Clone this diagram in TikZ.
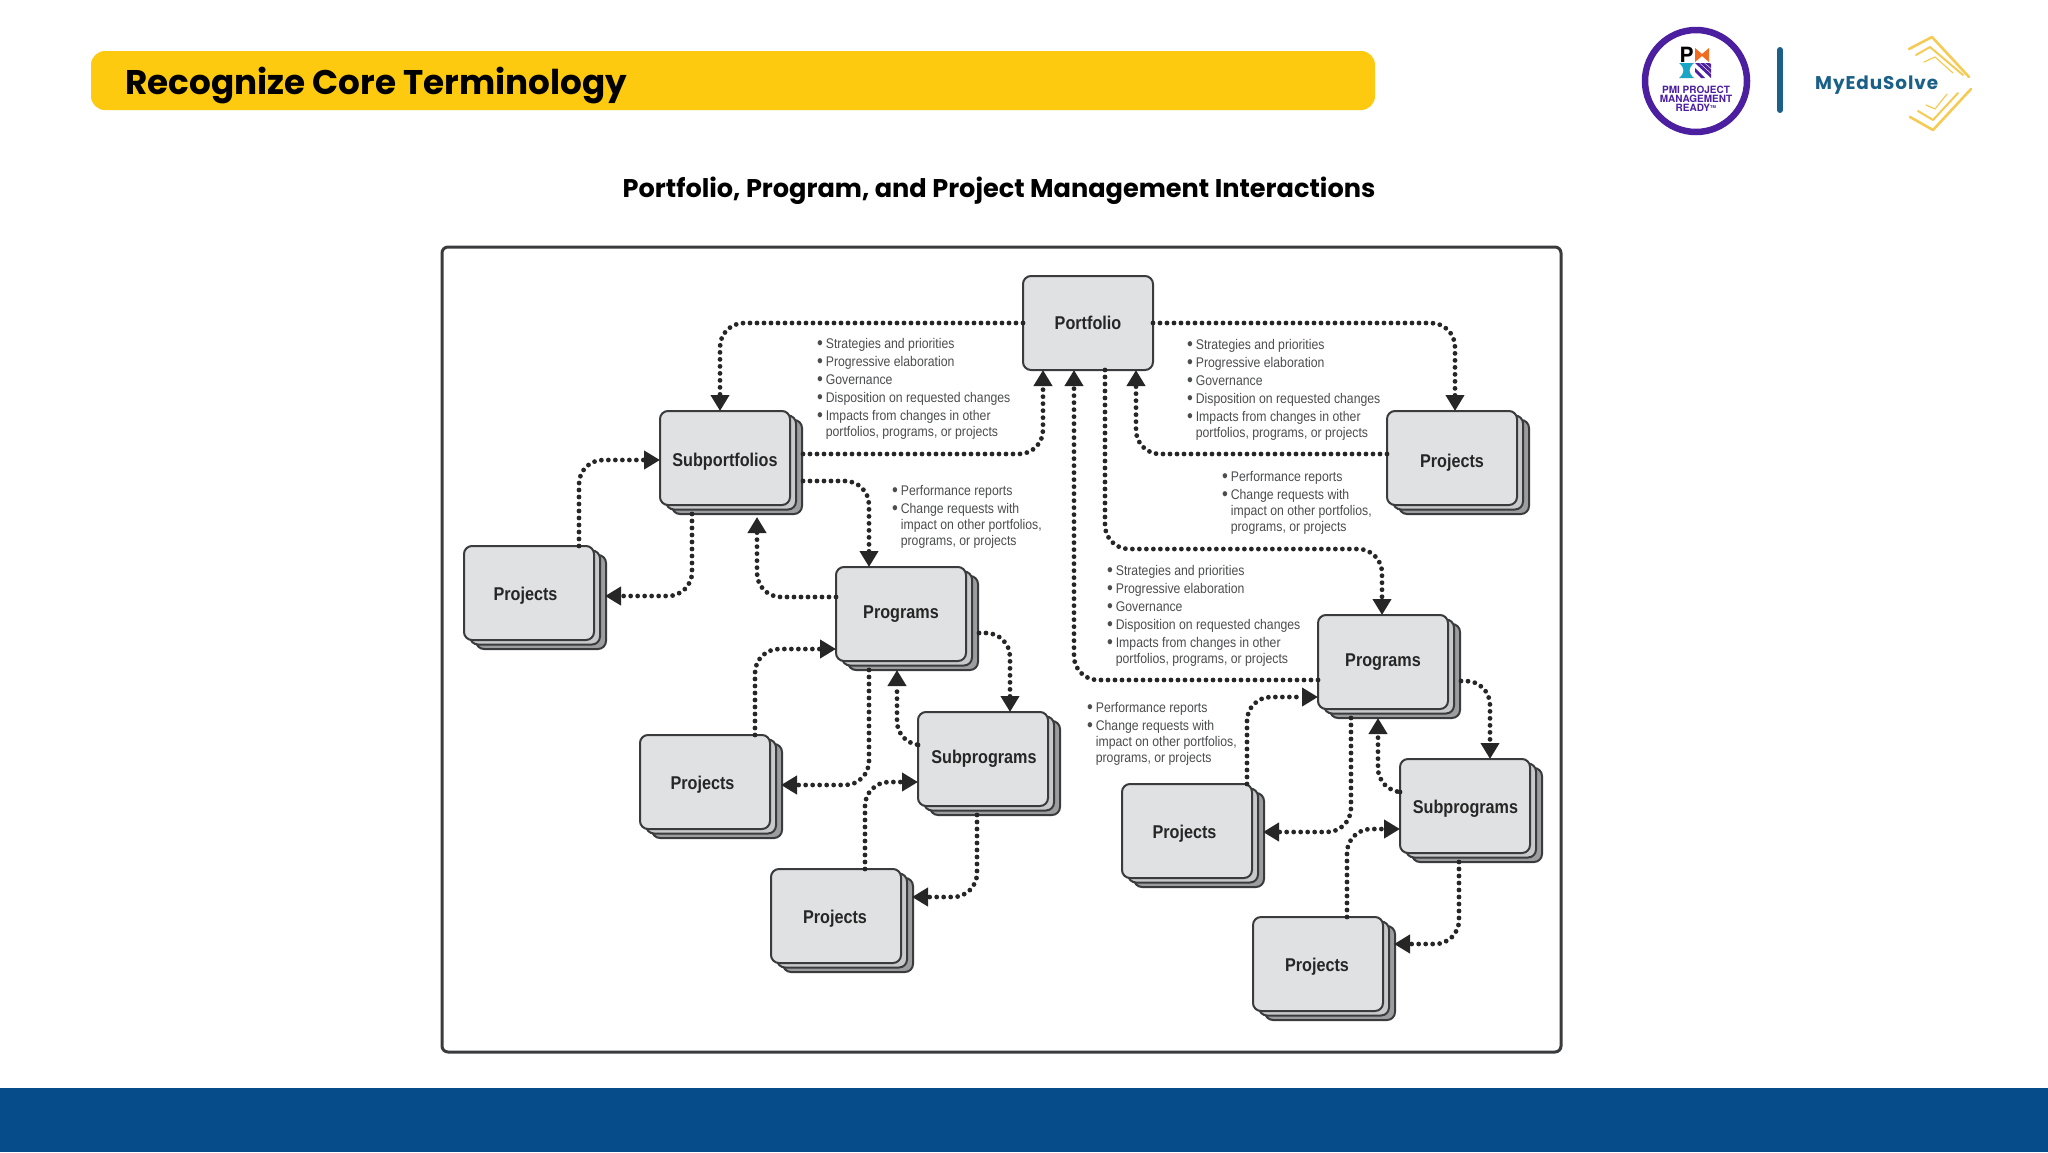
\documentclass[tikz,border=0pt]{standalone}
\usepackage{fontspec}
\usepackage{xcolor}
\usetikzlibrary{arrows.meta,shadows}
\setmainfont{Liberation Sans}
\newfontfamily\poppinsfont{Poppins}
\newfontfamily\logofont[LetterSpace=5]{Poppins}
\newfontfamily\heavyfont{TeX Gyre Heros}
\newfontfamily\narrowfont[FakeStretch=0.875]{Liberation Sans}
\definecolor{bannerYellow}{HTML}{FDCA10}
\definecolor{footerBlue}{HTML}{064B8A}
\definecolor{boxFill}{HTML}{E0E1E3}
\definecolor{boxLine}{HTML}{3A3B3D}
\definecolor{midFill}{HTML}{C8C9CB}
\definecolor{backFill}{HTML}{9C9D9F}
\definecolor{listGray}{HTML}{4C4D4F}
\definecolor{pmiPurple}{HTML}{4B1FA0}
\definecolor{pmiOrange}{HTML}{F26B21}
\definecolor{pmiTeal}{HTML}{1AA6C4}
\definecolor{eduBlue}{HTML}{1B6088}
\definecolor{eduGold}{HTML}{F6CB55}
\tikzset{
PlainBox/.style={
 draw=boxLine,
 line width=2pt,
 fill=boxFill,
 rounded corners=8pt,
 minimum width=130pt,
 minimum height=94pt,
 inner sep=0pt,
 outer sep=0pt,
 text=black!85,
 font=\narrowfont\bfseries\fontsize{18.5}{20}\selectfont
 },
StackBox/.style={
 PlainBox,
 copy shadow={shadow xshift=12pt,shadow yshift=-9pt,fill=backFill,draw=boxLine},
 copy shadow={shadow xshift=6pt,shadow yshift=-4.5pt,fill=midFill,draw=boxLine}
 },
DotFleche/.style={
 draw=black!85,
 line width=4.8pt,
 line cap=round,
 dash pattern=on 0pt off 7pt,
 rounded corners=24pt,
 -{Triangle[length=16pt,width=18pt]}
 },
BulletList/.style={
 anchor=north west,
 inner sep=0pt,
 outer sep=0pt,
 text=listGray,
 font=\narrowfont\fontsize{14}{16}\selectfont
 },
GoldStroke/.style={
 draw=eduGold,
 line cap=round,
 line join=round
 }
}
\newcommand{\BoxText}[3]{\hspace*{#1}\raisebox{#2}[\height][\depth]{#3}}
\newcommand{\Puce}{\raisebox{-1.2pt}{\fontsize{19}{16}\selectfont\textbullet}}
\newcommand{\DownList}{\begin{tabular}{@{}l@{\hspace{3pt}}l@{}}
\Puce & Strategies and priorities\\[2pt]
\Puce & Progressive elaboration\\[2pt]
\Puce & Governance\\[2pt]
\Puce & Disposition on requested changes\\[2pt]
\Puce & Impacts from changes in other\\
 & portfolios, programs, or projects
\end{tabular}}
\newcommand{\UpList}{\begin{tabular}{@{}l@{\hspace{3pt}}l@{}}
\Puce & Performance reports\\[2pt]
\Puce & Change requests with\\
 & impact on other portfolios,\\
 & programs, or projects
\end{tabular}}
\begin{document}
\begin{tikzpicture}[x=1pt,y=-1pt]
\useasboundingbox (0,0) rectangle (2048,1152);
\fill[white] (0,0) rectangle (2048,1152);
\fill[footerBlue] (0,1088) rectangle (2048,1152);
\fill[bannerYellow,rounded corners=14pt] (91,51) rectangle (1375,110);
\node[anchor=west,inner sep=0pt,font=\poppinsfont\bfseries\fontsize{34.2}{40}\selectfont] (title) at (125,85) {Recognize Core Terminology};
\node[inner sep=0pt,font=\poppinsfont\bfseries\fontsize{25.6}{30}\selectfont] (subtitle) at (999,191) {Portfolio, Program, and Project Management Interactions};
\draw[boxLine,line width=3pt,rounded corners=6pt] (442,247) rectangle (1561,1052);

\draw[pmiPurple,line width=6.5pt] (1696,81) circle (51pt);
\node[inner sep=0pt,font=\heavyfont\bfseries\fontsize{21}{21}\selectfont] (pmiP) at (1686.5,55) {P};
\fill[pmiOrange] (1695,48) -- (1702,54) -- (1709,48) -- (1709,62) -- (1702,56) -- (1695,62) -- cycle;
\fill[pmiTeal] (1679,63) -- (1694,63) .. controls (1688,68) and (1688,73) .. (1694,78) -- (1679,78) .. controls (1685,73) and (1685,68) .. (1679,63) -- cycle;
\foreach \k in {0,5,10}
 \fill[pmiPurple] (1695+\k,63) -- (1699+\k,63) -- (1711,74-\k) -- (1711,78-\k) -- cycle;
\fill[pmiPurple] (1695,68) -- (1705,78) -- (1701,78) -- (1695,72) -- cycle;
\node[align=center,inner sep=0pt,text=pmiPurple,font=\heavyfont\bfseries\fontsize{10}{9.2}\selectfont] (pmiText) at (1696,99) {PMI PROJECT\\MANAGEMENT\\READY\textsuperscript{\fontsize{4}{4}\selectfont TM}};
\draw[eduBlue,line width=6pt,line cap=round] (1780,50) -- (1780,110);
\node[anchor=west,inner sep=0pt,text=eduBlue,font=\logofont\bfseries\fontsize{18.4}{22}\selectfont] (eduName) at (1815,85.5) {MyEduSolve};
\draw[GoldStroke,line width=2.6pt] (1909,49) -- (1932,37) -- (1969,77);
\draw[GoldStroke,line width=2pt] (1916,55) -- (1930,47) -- (1963,75);
\draw[GoldStroke,line width=1.2pt] (1924,62) -- (1935,57) -- (1953,73);
\draw[GoldStroke,line width=2.6pt] (1910,117) -- (1933,130) -- (1971,89);
\draw[GoldStroke,line width=2pt] (1918,111) -- (1933,120) -- (1958,93);
\draw[GoldStroke,line width=1.2pt] (1926,105) -- (1935,109) -- (1947,94);

\node[PlainBox] (portfolio) at (1088,323) {Portfolio};
\node[StackBox] (sub) at (725,458) {\BoxText{0pt}{-4pt}{Subportfolios}};
\node[StackBox] (projR) at (1452,458) {\BoxText{0pt}{-5pt}{Projects}};
\node[StackBox] (projL) at (529,593) {\BoxText{-7pt}{-3pt}{Projects}};
\node[StackBox] (progL) at (901,614) {Programs};
\node[StackBox] (projMid) at (705,782) {\BoxText{-5pt}{-3pt}{Projects}};
\node[StackBox] (subpL) at (983,759) {\BoxText{2pt}{0pt}{Subprograms}};
\node[StackBox] (projBot) at (836,916) {\BoxText{-2pt}{-3pt}{Projects}};
\node[StackBox] (progR) at (1383,662) {Programs};
\node[StackBox] (projLow) at (1187,831) {\BoxText{-5pt}{-3pt}{Projects}};
\node[StackBox] (subpR) at (1465,806) {\BoxText{1pt}{-3pt}{Subprograms}};
\node[StackBox] (projEnd) at (1318,964) {\BoxText{-2pt}{-3pt}{Projects}};

\node[BulletList] (listA) at (817,337.5) {\DownList};
\node[BulletList] (listB) at (1187,338.5) {\DownList};
\node[BulletList] (listC) at (892,484.5) {\UpList};
\node[BulletList] (listD) at (1222,470.5) {\UpList};
\node[BulletList] (listE) at (1107,564.5) {\DownList};
\node[BulletList] (listF) at (1087,701.5) {\UpList};

\draw[DotFleche] (portfolio.west) -| ([xshift=-5pt]sub.north);
\draw[DotFleche] ([xshift=13pt,yshift=4pt]sub.east) -| ([xshift=-45pt]portfolio.south);
\draw[DotFleche] (portfolio.east) -| ([xshift=3pt]projR.north);
\draw[DotFleche] ([yshift=4pt]projR.west) -| ([xshift=48pt]portfolio.south);
\draw[DotFleche] ([xshift=13pt,yshift=-23pt]sub.east) -| ([xshift=-32pt]progL.north);
\draw[DotFleche] ([yshift=17pt]progL.west) -| ([xshift=32pt,yshift=-12pt]sub.south);
\draw[DotFleche] ([xshift=-33pt,yshift=-9pt]sub.south) |- ([xshift=11pt,yshift=-3pt]projL.east);
\draw[DotFleche] ([xshift=50pt]projL.north) |- ([yshift=-2pt]sub.west);
\draw[DotFleche] ([xshift=50pt]projMid.north) |- ([yshift=-35pt]progL.west);
\draw[DotFleche] ([xshift=-32pt,yshift=-9pt]progL.south) |- ([xshift=11pt,yshift=-3pt]projMid.east);
\draw[DotFleche] ([xshift=13pt,yshift=-19pt]progL.east) -| ([xshift=27pt]subpL.north);
\draw[DotFleche] ([yshift=14pt]subpL.west) -| ([xshift=-4pt,yshift=-9pt]progL.south);
\draw[DotFleche] ([xshift=29pt]projBot.north) |- ([yshift=-23pt]subpL.west);
\draw[DotFleche] ([xshift=-6pt,yshift=-9pt]subpL.south) |- ([xshift=11pt,yshift=19pt]projBot.east);
\draw[DotFleche] ([xshift=17pt]portfolio.south) -- ++(0,179) -| ([xshift=-1pt]progR.north);
\draw[DotFleche] ([yshift=-18pt]progR.west) -| ([xshift=-14pt]portfolio.south);
\draw[DotFleche] ([xshift=60pt]projLow.north) |- ([yshift=-35pt]progR.west);
\draw[DotFleche] ([xshift=-32pt,yshift=-9pt]progR.south) |- ([xshift=11pt,yshift=-1pt]projLow.east);
\draw[DotFleche] ([xshift=13pt,yshift=-19pt]progR.east) -| ([xshift=25pt]subpR.north);
\draw[DotFleche] ([yshift=14pt]subpR.west) -| ([xshift=-5pt,yshift=-9pt]progR.south);
\draw[DotFleche] ([xshift=29pt]projEnd.north) |- ([yshift=-23pt]subpR.west);
\draw[DotFleche] ([xshift=-6pt,yshift=-9pt]subpR.south) |- ([xshift=11pt,yshift=20pt]projEnd.east);
\end{tikzpicture}
\end{document}
